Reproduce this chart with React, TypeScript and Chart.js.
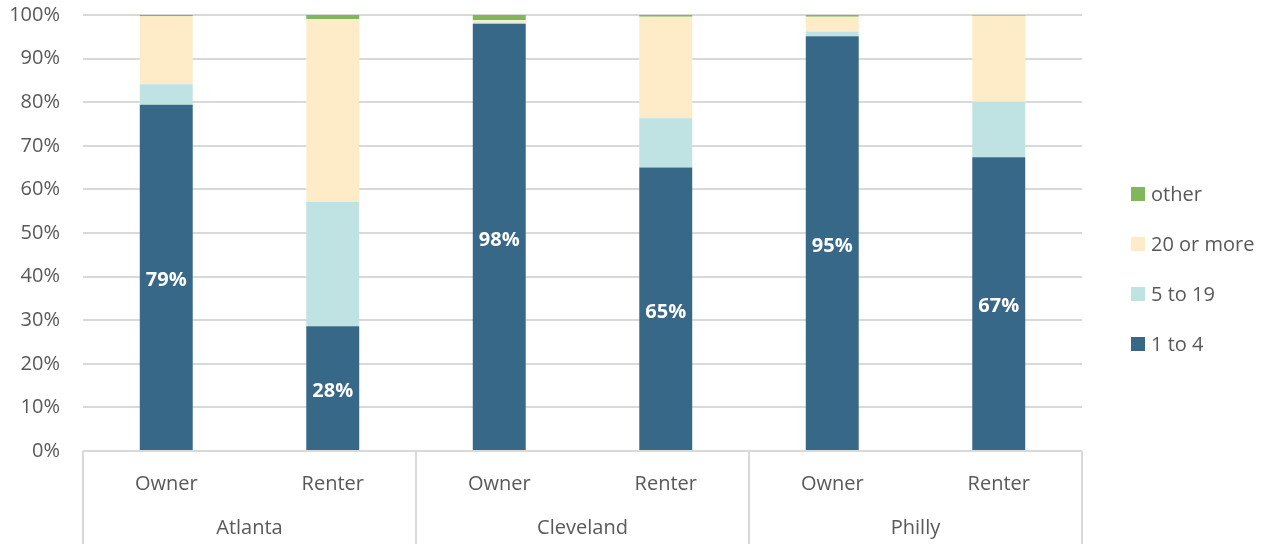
import React, { useEffect, useRef } from "react";
import { Chart, registerables } from "chart.js";

Chart.register(...registerables);

const groups = ["Atlanta", "Cleveland", "Philly"];
const tenure = ["Owner", "Renter", "Owner", "Renter", "Owner", "Renter"];
const seriesNames = ["1 to 4", "5 to 19", "20 or more", "other"];
const oneToFour = [79.4, 28.6, 98.0, 65.0, 95.1, 67.4];
const fiveToNineteen = [4.7, 28.5, 0.3, 11.3, 1.1, 12.7];
const twentyOrMore = [15.6, 42.0, 0.5, 23.3, 3.4, 19.7];
const other = [0.3, 0.9, 1.2, 0.4, 0.4, 0.2];
const dataLabels = ["79%", "28%", "98%", "65%", "95%", "67%"];
const colors = ["#376888", "#bfe3e2", "#feecc9", "#80b75a"];
const yTicks = [0, 10, 20, 30, 40, 50, 60, 70, 80, 90, 100];

const FONT = "'Open Sans', sans-serif";
const TEXT = "#595959";
const LINE = "#d9d9d9";

const overlay = {
  id: "overlay",
  afterDatasetsDraw(chart: any) {
    const ctx = chart.ctx;
    const area = chart.chartArea;
    const x = chart.scales.x;
    const meta = chart.getDatasetMeta(0);
    ctx.save();
    ctx.fillStyle = "#ffffff";
    ctx.font = `bold 20px ${FONT}`;
    ctx.textAlign = "center";
    ctx.textBaseline = "middle";
    meta.data.forEach((bar: any, i: number) => {
      ctx.fillText(dataLabels[i], bar.x, (bar.y + bar.base) / 2 + 3);
    });
    ctx.restore();

    ctx.save();
    ctx.strokeStyle = LINE;
    ctx.lineWidth = 2;
    const catW = (x.right - x.left) / tenure.length;
    for (let g = 0; g <= groups.length; g++) {
      const px = Math.round(x.left + g * 2 * catW);
      ctx.beginPath();
      ctx.moveTo(px, area.bottom);
      ctx.lineTo(px, chart.height);
      ctx.stroke();
    }
    ctx.fillStyle = TEXT;
    ctx.font = `20px ${FONT}`;
    ctx.textAlign = "center";
    ctx.textBaseline = "middle";
    groups.forEach((g, i) => {
      ctx.fillText(g, x.left + (i * 2 + 1) * catW, 528);
    });

    const items = seriesNames.map((n, i) => ({ n, c: colors[i] })).reverse();
    ctx.textAlign = "left";
    items.forEach((it, i) => {
      const cy = 194 + i * 50;
      ctx.fillStyle = it.c;
      ctx.fillRect(1131, cy - 7, 14, 14);
      ctx.fillStyle = TEXT;
      ctx.fillText(it.n, 1151, cy + 1);
    });
    ctx.restore();
  },
};

export default function App() {
  const ref = useRef<HTMLCanvasElement>(null);
  useEffect(() => {
    const seriesData = [oneToFour, fiveToNineteen, twentyOrMore, other];
    const chart = new Chart(ref.current!, {
      type: "bar",
      data: {
        labels: tenure,
        datasets: seriesNames.map((n, i) => ({
          label: n,
          data: seriesData[i],
          backgroundColor: colors[i],
          borderWidth: 0,
          categoryPercentage: 1,
          barPercentage: 0.318,
        })),
      },
      options: {
        animation: false,
        responsive: true,
        maintainAspectRatio: false,
        layout: { padding: { top: 15, right: 191, left: 0, bottom: 0 } },
        plugins: {
          legend: { display: false },
          tooltip: { enabled: false },
        },
        scales: {
          x: {
            stacked: true,
            grid: { display: false },
            border: { display: false },
            ticks: {
              color: TEXT,
              font: { family: FONT, size: 20 },
              padding: 13,
              maxRotation: 0,
            },
            afterFit: (s: any) => {
              s.height = 93;
            },
          },
          y: {
            stacked: true,
            min: 0,
            max: 100,
            afterBuildTicks: (s: any) => {
              s.ticks = yTicks.map((v) => ({ value: v }));
            },
            grid: { color: LINE, lineWidth: 2, drawTicks: false },
            border: { display: false },
            ticks: {
              color: TEXT,
              font: { family: FONT, size: 20 },
              padding: 23,
              callback: (v: any) => v + "%",
            },
            afterFit: (s: any) => {
              s.width = 83;
              s.paddingTop = 0;
              s.paddingBottom = 0;
            },
          },
        },
      },
      plugins: [overlay],
    });
    return () => chart.destroy();
  }, []);
  return (
    <div style={{ position: "fixed", left: 0, top: 0, width: 1273, height: 544 }}>
      <canvas ref={ref} />
    </div>
  );
}
